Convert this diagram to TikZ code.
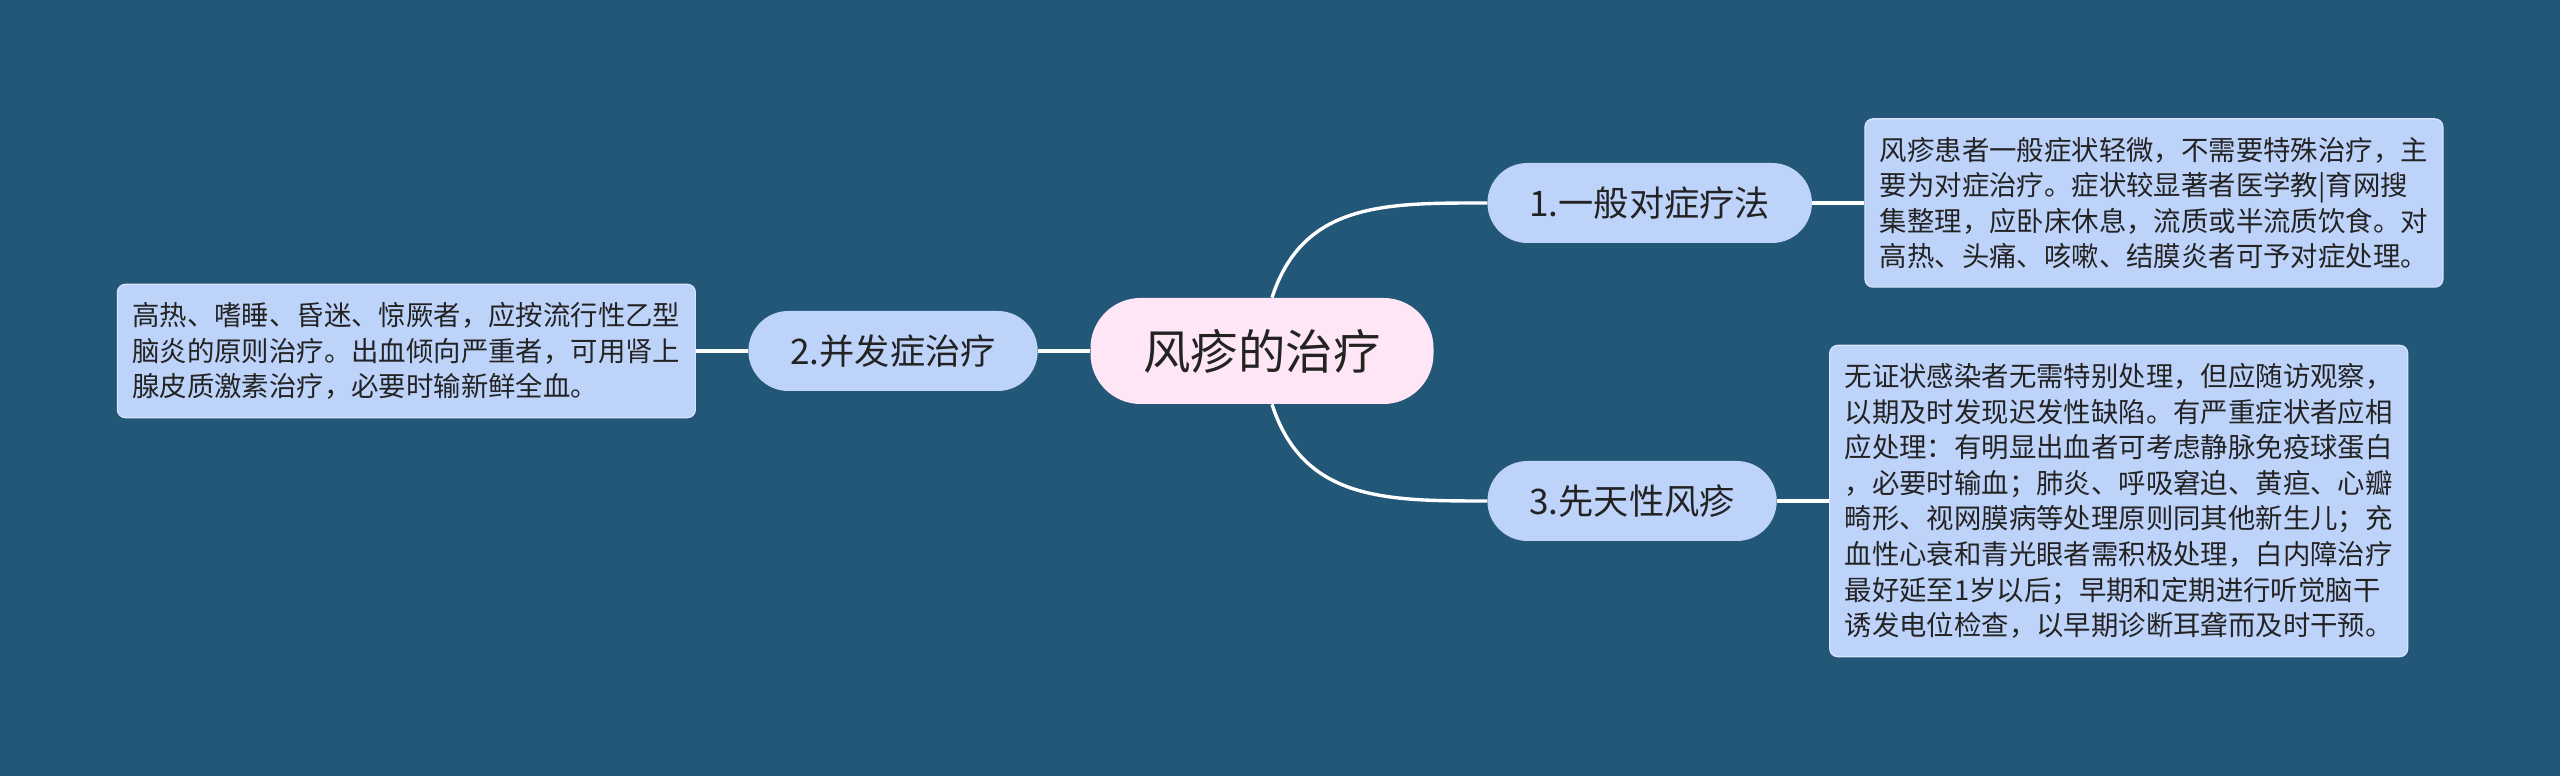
\documentclass[tikz,border=0pt]{standalone}
\usepackage{fontspec}
\setmainfont{Noto Sans CJK SC}
\usetikzlibrary{positioning}
\definecolor{mapbg}{RGB}{35,87,120}
\definecolor{nodefill}{RGB}{190,211,250}
\definecolor{rootfill}{RGB}{255,230,246}
\definecolor{leafline}{RGB}{215,228,252}
\definecolor{inktext}{RGB}{35,35,35}

\begin{document}
\begin{tikzpicture}[x=0.5pt,y=0.5pt,
    mind root/.style={rectangle, fill=rootfill, rounded corners=25pt, text=inktext, font=\fontsize{23.7}{28}\selectfont, inner xsep=26.5pt, minimum height=53pt},
    mind branch/.style={rectangle, fill=nodefill, rounded corners=20pt, text=inktext, font=\fontsize{17.6}{21}\selectfont, inner xsep=21pt, minimum height=40pt},
    mind leaf/.style={rectangle, draw=leafline, line width=0.6pt, fill=nodefill, rounded corners=4pt, text=inktext, font=\fontsize{13.7}{17.8}\selectfont, text width=274pt, align=left, inner xsep=7.5pt, inner ysep=9pt},
    mind line/.style={draw=white, line width=1.7pt}]
    \fill[mapbg] (0,0) rectangle (2560,776);
    \node[mind root] (R) at (1262,425) {风疹的治疗};
    \node[mind branch, anchor=west] (B1) at (1487,573) {1.一般对症疗法};
    \node[mind branch] (B2) [left=26pt of R] {2.并发症治疗};
    \node[mind branch, anchor=west] (B3) at (1487,275) {3.先天性风疹};
    \node[mind leaf] (L1) [right=26pt of B1] {风疹患者一般症状轻微，不需要特殊治疗，主\\要为对症治疗。症状较显著者医学教|育网搜\\集整理，应卧床休息，流质或半流质饮食。对\\高热、头痛、咳嗽、结膜炎者可予对症处理。};
    \node[mind leaf] (L2) [left=26pt of B2] {高热、嗜睡、昏迷、惊厥者，应按流行性乙型\\脑炎的原则治疗。出血倾向严重者，可用肾上\\腺皮质激素治疗，必要时输新鲜全血。};
    \node[mind leaf] (L3) [right=26pt of B3] {无证状感染者无需特别处理，但应随访观察，\\以期及时发现迟发性缺陷。有严重症状者应相\\应处理：有明显出血者可考虑静脉免疫球蛋白\\，必要时输血；肺炎、呼吸窘迫、黄疸、心瓣\\畸形、视网膜病等处理原则同其他新生儿；充\\血性心衰和青光眼者需积极处理，白内障治疗\\最好延至1岁以后；早期和定期进行听觉脑干\\诱发电位检查，以早期诊断耳聋而及时干预。};
    % connectors
    \draw[mind line] ([xshift=5pt]R.north) to[out=72,in=180,looseness=1.1] (B1.west);
    \draw[mind line] ([xshift=5pt]R.south) to[out=-72,in=180,looseness=1.1] (B3.west);
    \draw[mind line] (R.west) -- (B2.east);
    \draw[mind line] (B1.east) -- (L1.west);
    \draw[mind line] (B2.west) -- (L2.east);
    \draw[mind line] (B3.east) -- (L3.west);
\end{tikzpicture}
\end{document}
